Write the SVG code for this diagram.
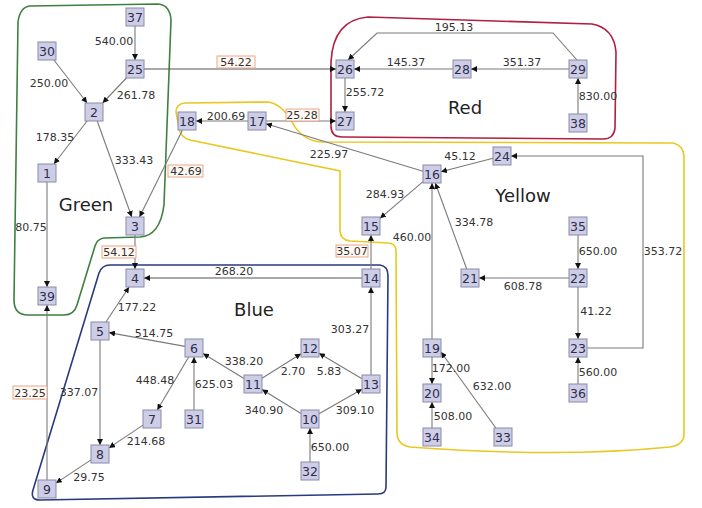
<svg xmlns="http://www.w3.org/2000/svg" width="702" height="508" viewBox="0 0 702 508">
<style>
.n rect{fill:#cdcde6;stroke:#8a8aac;stroke-width:1}
.n text{font-family:"DejaVu Sans",sans-serif;font-size:12.5px;fill:#2e2e50;text-anchor:middle}
.e{fill:none;stroke:#7a7a7a;stroke-width:1.1;marker-end:url(#ah)}
.l{font-family:"DejaVu Sans",sans-serif;font-size:11px;fill:#333;text-anchor:middle}
.b{fill:#fff8f3;stroke:#e8a888;stroke-width:1}
.g{font-family:"DejaVu Sans",sans-serif;font-size:18px;fill:#222;text-anchor:middle}
.r{fill:none;stroke-width:1.6}
</style>
<defs>
<marker id="ah" viewBox="0 0 8 8" refX="8" refY="4" markerWidth="6" markerHeight="6" orient="auto" markerUnits="userSpaceOnUse"><path d="M0,0 L8,4 L0,8 Z" fill="#111"/></marker>
</defs>
<rect width="702" height="508" fill="#fff"/>
<g id="regions">
<path id="green" class="r" stroke="#3f7f3f" d="M30,6 L158,4 Q170,5 171,20 L164,205 Q160,236 140,237 L104,238 Q97,239 95,246 L77,305 Q74,315 64,315 L28,315 Q14,315 14,300 L18,22 Q20,7 30,6 Z"/>
<path id="red" class="r" stroke="#b02040" d="M368,17 L592,24 Q614,28 616,52 L615,128 Q614,139 603,139 L342,137 Q331,137 331,126 L331,62 Q333,20 368,17 Z"/>
<path id="yellow" class="r" stroke="#e8c820" d="M185,103 L268,102 Q282,104 292,122 Q302,141 322,142 L673,143 Q683,145 684,156 L684,434 Q684,445 670,447 Q560,458 410,447 Q397,445 397,432 L396,250 Q395,243 388,243 L350,241 Q340,240 340,230 L340,171 L190,140 Q180,137 179,128 L176,112 Q176,104 185,103 Z"/>
<path id="blue" class="r" stroke="#2a3a80" d="M110,265 L380,265 Q388,266 388,276 L386,487 Q386,494 378,494 L40,500 Q30,500 33,490 L99,273 Q102,265 110,265 Z"/>
<text class="g" x="86" y="211">Green</text>
<text class="g" x="465" y="114">Red</text>
<text class="g" x="523" y="202">Yellow</text>
<text class="g" x="254" y="316">Blue</text>
</g>
<g id="connectors">
<line class="e" x1="135" y1="26" x2="135" y2="60"/>
<line class="e" x1="53.9" y1="60" x2="87.1" y2="103"/>
<line class="e" x1="126.4" y1="78" x2="102.6" y2="103"/>
<line class="e" x1="87.1" y1="121" x2="53.9" y2="164"/>
<line class="e" x1="97.2" y1="121" x2="131.8" y2="217"/>
<line class="e" x1="47" y1="182" x2="47" y2="287"/>
<line class="e" x1="144" y1="69" x2="336" y2="69" style="stroke:#555"/>
<line class="e" x1="182.5" y1="130" x2="139.5" y2="217"/>
<line class="e" x1="135" y1="235" x2="135" y2="269"/>
<line class="e" x1="47" y1="480" x2="47" y2="305"/>
<line class="e" x1="248" y1="121" x2="196" y2="121"/>
<line class="e" x1="266" y1="121" x2="336" y2="121"/>
<line class="e" x1="423" y1="171.3" x2="266" y2="123.7"/>
<line class="e" x1="345" y1="78" x2="345" y2="112"/>
<line class="e" x1="453" y1="69" x2="354" y2="69"/>
<line class="e" x1="569" y1="69" x2="471" y2="69"/>
<polyline class="e" points="577,60 553,33 377,33 348,60"/>
<line class="e" x1="578" y1="114" x2="578" y2="78"/>
<line class="e" x1="493" y1="158.3" x2="441" y2="171.7"/>
<polyline class="e" points="587,348 643,348 643,156 511,156"/>
<line class="e" x1="423" y1="181.7" x2="380" y2="218.3"/>
<line class="e" x1="371" y1="269" x2="371" y2="235"/>
<line class="e" x1="362" y1="278" x2="144" y2="278" style="stroke:#555"/>
<line class="e" x1="432" y1="339" x2="432" y2="183"/>
<line class="e" x1="466.7" y1="269" x2="435.3" y2="183"/>
<line class="e" x1="569" y1="278" x2="479" y2="278"/>
<line class="e" x1="578" y1="235" x2="578" y2="269"/>
<line class="e" x1="578" y1="287" x2="578" y2="339"/>
<line class="e" x1="578" y1="384" x2="578" y2="357"/>
<line class="e" x1="432" y1="357" x2="432" y2="384"/>
<line class="e" x1="495.8" y1="428" x2="441" y2="352"/>
<line class="e" x1="432" y1="428" x2="432" y2="402"/>
<line class="e" x1="105.9" y1="322" x2="129.1" y2="287"/>
<line class="e" x1="185" y1="346.4" x2="109" y2="332.6"/>
<line class="e" x1="188.7" y1="357" x2="157.3" y2="410"/>
<line class="e" x1="194" y1="410" x2="194" y2="357"/>
<line class="e" x1="100" y1="340" x2="100" y2="445"/>
<line class="e" x1="143" y1="425.1" x2="109" y2="447.9"/>
<line class="e" x1="91" y1="459.9" x2="56" y2="483.1"/>
<line class="e" x1="244" y1="378.5" x2="203" y2="353.5"/>
<line class="e" x1="262" y1="378.3" x2="301" y2="353.7"/>
<line class="e" x1="362" y1="378.7" x2="319" y2="353.3"/>
<line class="e" x1="301" y1="413.5" x2="262" y2="389.5"/>
<line class="e" x1="319" y1="413.8" x2="362" y2="389.2"/>
<line class="e" x1="310" y1="462" x2="310" y2="428"/>
<line class="e" x1="371" y1="375" x2="371" y2="287"/>
</g>
<g id="edge-labels">
<text class="l" x="114" y="45">540.00</text>
<text class="l" x="49" y="87">250.00</text>
<text class="l" x="136" y="99">261.78</text>
<text class="l" x="55" y="141">178.35</text>
<text class="l" x="134" y="164">333.43</text>
<text class="l" x="31" y="231">80.75</text>
<rect class="b" x="217" y="56" width="38" height="12"/><text class="l" x="236" y="66">54.22</text>
<rect class="b" x="168" y="165" width="35" height="12"/><text class="l" x="186" y="175">42.69</text>
<rect class="b" x="102" y="246" width="34" height="12"/><text class="l" x="119" y="256">54.12</text>
<rect class="b" x="286" y="109" width="33" height="12"/><text class="l" x="302" y="119">25.28</text>
<rect class="b" x="336" y="245" width="32" height="12"/><text class="l" x="352" y="255">35.07</text>
<rect class="b" x="13" y="386" width="34" height="13"/><text class="l" x="30" y="397">23.25</text>
<text class="l" x="226" y="120">200.69</text>
<text class="l" x="329" y="158">225.97</text>
<text class="l" x="365" y="96">255.72</text>
<text class="l" x="406" y="66">145.37</text>
<text class="l" x="454" y="31">195.13</text>
<text class="l" x="522" y="66">351.37</text>
<text class="l" x="598" y="100">830.00</text>
<text class="l" x="460" y="160">45.12</text>
<text class="l" x="385" y="198">284.93</text>
<text class="l" x="412" y="241">460.00</text>
<text class="l" x="234" y="275">268.20</text>
<text class="l" x="474" y="226">334.78</text>
<text class="l" x="598" y="255">650.00</text>
<text class="l" x="663" y="255">353.72</text>
<text class="l" x="523" y="290">608.78</text>
<text class="l" x="596" y="315">41.22</text>
<text class="l" x="451" y="372">172.00</text>
<text class="l" x="492" y="390">632.00</text>
<text class="l" x="598" y="376">560.00</text>
<text class="l" x="453" y="420">508.00</text>
<text class="l" x="137" y="311">177.22</text>
<text class="l" x="154" y="337">514.75</text>
<text class="l" x="155" y="384">448.48</text>
<text class="l" x="214" y="388">625.03</text>
<text class="l" x="79" y="396">337.07</text>
<text class="l" x="146" y="445">214.68</text>
<text class="l" x="89" y="481">29.75</text>
<text class="l" x="350" y="333">303.27</text>
<text class="l" x="244" y="365">338.20</text>
<text class="l" x="293" y="375">2.70</text>
<text class="l" x="329" y="375">5.83</text>
<text class="l" x="264" y="414">340.90</text>
<text class="l" x="355" y="414">309.10</text>
<text class="l" x="330" y="451">650.00</text>
</g>
<g id="nodes">
<g id="n37" class="n"><rect x="126" y="8" width="18" height="18"/><text x="135" y="21.5">37</text></g>
<g id="n30" class="n"><rect x="38" y="42" width="18" height="18"/><text x="47" y="55.5">30</text></g>
<g id="n25" class="n"><rect x="126" y="60" width="18" height="18"/><text x="135" y="73.5">25</text></g>
<g id="n2" class="n"><rect x="85" y="103" width="18" height="18"/><text x="94" y="116.5">2</text></g>
<g id="n1" class="n"><rect x="38" y="164" width="18" height="18"/><text x="47" y="177.5">1</text></g>
<g id="n3" class="n"><rect x="126" y="217" width="18" height="18"/><text x="135" y="230.5">3</text></g>
<g id="n39" class="n"><rect x="38" y="287" width="18" height="18"/><text x="47" y="300.5">39</text></g>
<g id="n4" class="n"><rect x="126" y="269" width="18" height="18"/><text x="135" y="282.5">4</text></g>
<g id="n18" class="n"><rect x="178" y="112" width="18" height="18"/><text x="187" y="125.5">18</text></g>
<g id="n17" class="n"><rect x="248" y="112" width="18" height="18"/><text x="257" y="125.5">17</text></g>
<g id="n26" class="n"><rect x="336" y="60" width="18" height="18"/><text x="345" y="73.5">26</text></g>
<g id="n27" class="n"><rect x="336" y="112" width="18" height="18"/><text x="345" y="125.5">27</text></g>
<g id="n28" class="n"><rect x="453" y="60" width="18" height="18"/><text x="462" y="73.5">28</text></g>
<g id="n29" class="n"><rect x="569" y="60" width="18" height="18"/><text x="578" y="73.5">29</text></g>
<g id="n38" class="n"><rect x="569" y="114" width="18" height="18"/><text x="578" y="127.5">38</text></g>
<g id="n24" class="n"><rect x="493" y="147" width="18" height="18"/><text x="502" y="160.5">24</text></g>
<g id="n16" class="n"><rect x="423" y="165" width="18" height="18"/><text x="432" y="178.5">16</text></g>
<g id="n15" class="n"><rect x="362" y="217" width="18" height="18"/><text x="371" y="230.5">15</text></g>
<g id="n14" class="n"><rect x="362" y="269" width="18" height="18"/><text x="371" y="282.5">14</text></g>
<g id="n35" class="n"><rect x="569" y="217" width="18" height="18"/><text x="578" y="230.5">35</text></g>
<g id="n22" class="n"><rect x="569" y="269" width="18" height="18"/><text x="578" y="282.5">22</text></g>
<g id="n21" class="n"><rect x="461" y="269" width="18" height="18"/><text x="470" y="282.5">21</text></g>
<g id="n23" class="n"><rect x="569" y="339" width="18" height="18"/><text x="578" y="352.5">23</text></g>
<g id="n36" class="n"><rect x="569" y="384" width="18" height="18"/><text x="578" y="397.5">36</text></g>
<g id="n19" class="n"><rect x="423" y="339" width="18" height="18"/><text x="432" y="352.5">19</text></g>
<g id="n20" class="n"><rect x="423" y="384" width="18" height="18"/><text x="432" y="397.5">20</text></g>
<g id="n34" class="n"><rect x="423" y="428" width="18" height="18"/><text x="432" y="441.5">34</text></g>
<g id="n33" class="n"><rect x="494" y="428" width="18" height="18"/><text x="503" y="441.5">33</text></g>
<g id="n5" class="n"><rect x="91" y="322" width="18" height="18"/><text x="100" y="335.5">5</text></g>
<g id="n6" class="n"><rect x="185" y="339" width="18" height="18"/><text x="194" y="352.5">6</text></g>
<g id="n7" class="n"><rect x="143" y="410" width="18" height="18"/><text x="152" y="423.5">7</text></g>
<g id="n31" class="n"><rect x="185" y="410" width="18" height="18"/><text x="194" y="423.5">31</text></g>
<g id="n8" class="n"><rect x="91" y="445" width="18" height="18"/><text x="100" y="458.5">8</text></g>
<g id="n9" class="n"><rect x="38" y="480" width="18" height="18"/><text x="47" y="493.5">9</text></g>
<g id="n12" class="n"><rect x="301" y="339" width="18" height="18"/><text x="310" y="352.5">12</text></g>
<g id="n11" class="n"><rect x="244" y="375" width="18" height="18"/><text x="253" y="388.5">11</text></g>
<g id="n13" class="n"><rect x="362" y="375" width="18" height="18"/><text x="371" y="388.5">13</text></g>
<g id="n10" class="n"><rect x="301" y="410" width="18" height="18"/><text x="310" y="423.5">10</text></g>
<g id="n32" class="n"><rect x="301" y="462" width="18" height="18"/><text x="310" y="475.5">32</text></g>
</g>
</svg>
